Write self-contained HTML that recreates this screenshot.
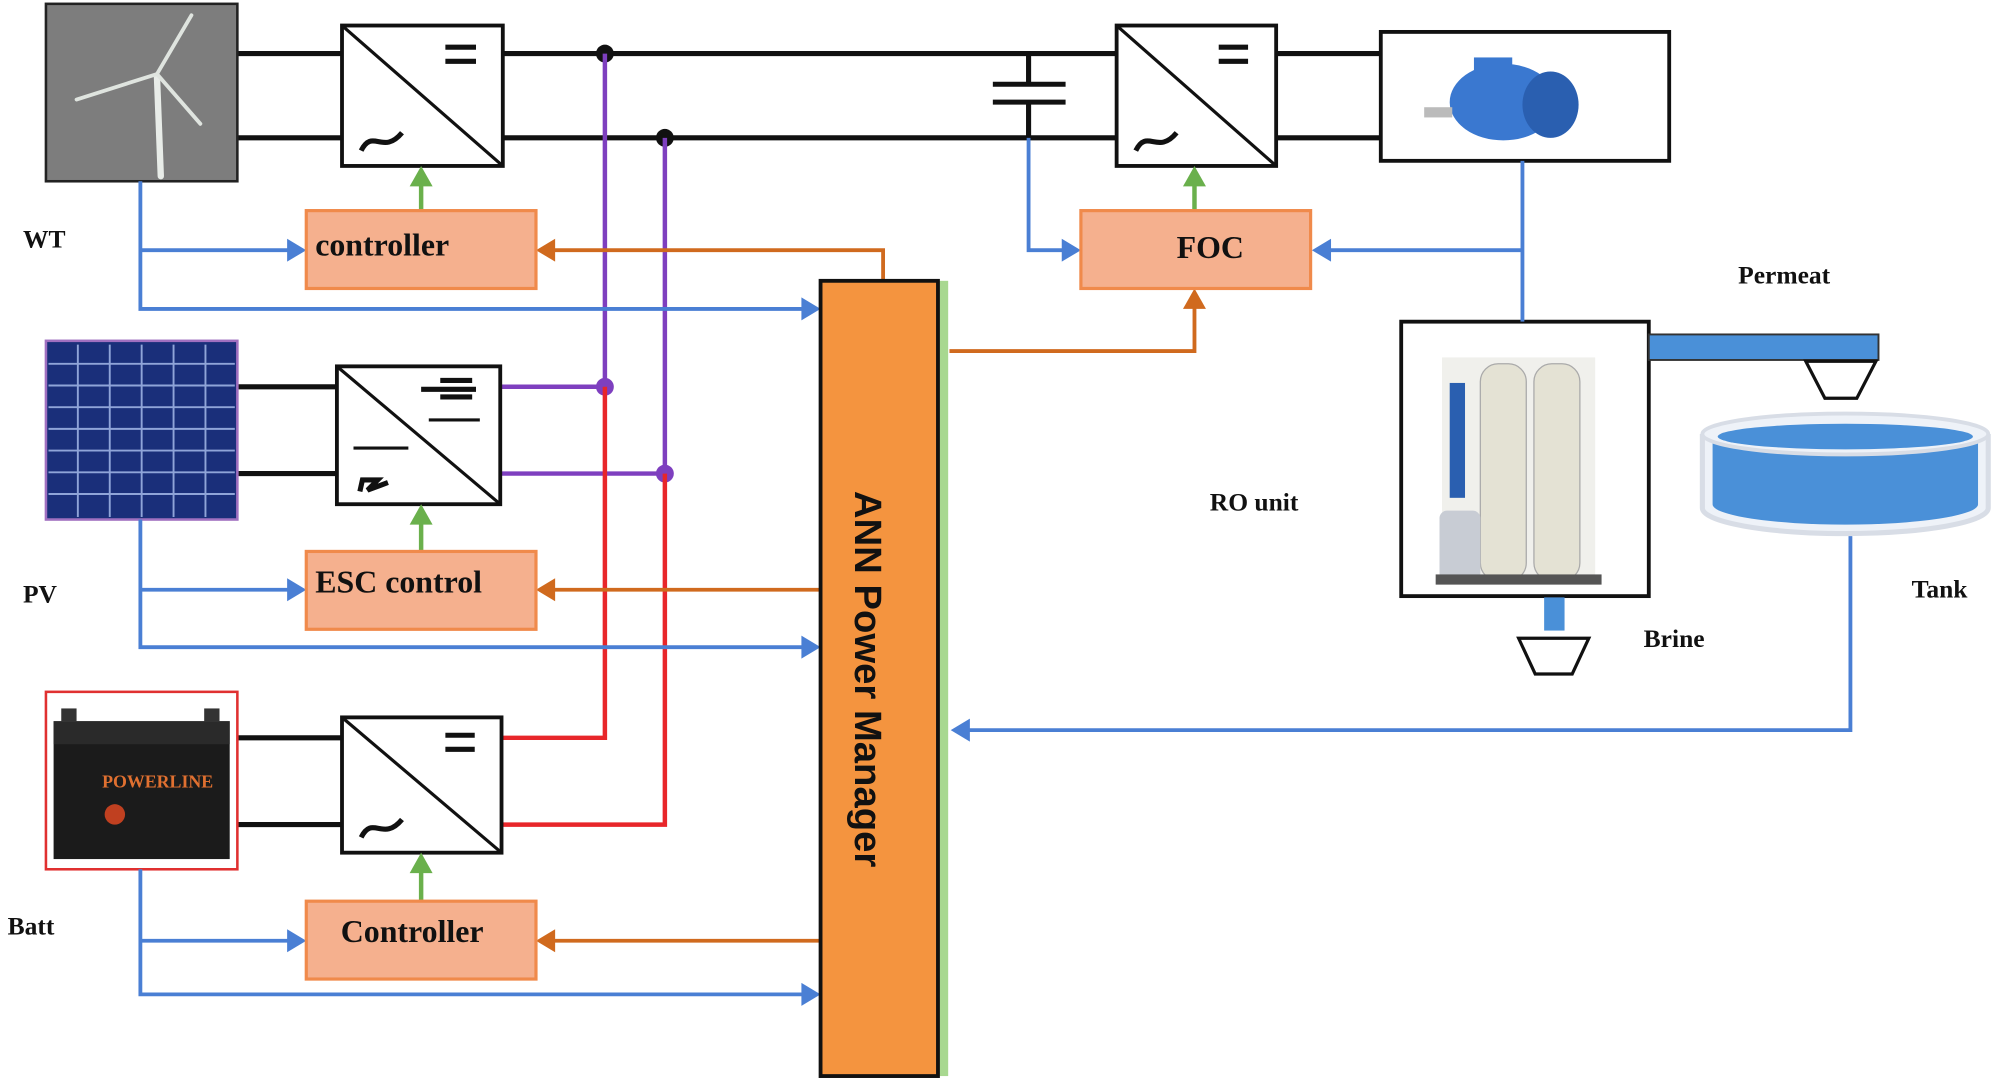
<!DOCTYPE html>
<html><head><meta charset="utf-8"><style>
html,body{margin:0;padding:0;background:#fff;}
svg{display:block;}
text{font-family:"Liberation Serif",serif;font-weight:bold;}
</style></head><body>
<svg width="2001" height="1085" viewBox="0 0 1568 850" preserveAspectRatio="none" xmlns="http://www.w3.org/2000/svg">
<rect width="1568" height="850" fill="#fff"/>
<g stroke="#111" stroke-width="4" fill="none">
<line x1="186" y1="42" x2="268" y2="42"/><line x1="186" y1="108" x2="268" y2="108"/>
<line x1="394" y1="42" x2="875" y2="42"/><line x1="394" y1="108" x2="875" y2="108"/>
<line x1="1000" y1="42" x2="1082" y2="42"/><line x1="1000" y1="108" x2="1082" y2="108"/>
<line x1="186" y1="303" x2="264" y2="303"/><line x1="186" y1="371" x2="264" y2="371"/>
<line x1="186" y1="578" x2="268" y2="578"/><line x1="186" y1="646" x2="268" y2="646"/>
<line x1="806" y1="42" x2="806" y2="66"/><line x1="806" y1="80" x2="806" y2="108"/>
<line x1="778" y1="66" x2="835" y2="66"/><line x1="778" y1="80" x2="835" y2="80"/>
</g>
<circle cx="474" cy="42" r="7" fill="#111"/><circle cx="521" cy="108" r="7" fill="#111"/>
<g stroke="#7e3fbf" stroke-width="3.5" fill="none">
<line x1="474" y1="42" x2="474" y2="303"/><line x1="521" y1="108" x2="521" y2="371"/>
<line x1="392" y1="303" x2="474" y2="303"/><line x1="392" y1="371" x2="521" y2="371"/>
</g>
<circle cx="474" cy="303" r="7" fill="#7e3fbf"/><circle cx="521" cy="371" r="7" fill="#7e3fbf"/>
<g stroke="#e8262a" stroke-width="3.5" fill="none">
<polyline points="474,303 474,578 393,578"/><polyline points="521,371 521,646 393,646"/>
</g>
<g stroke="#111" stroke-width="3" fill="#fff">
<rect x="268" y="20" width="126" height="110"/><rect x="875" y="20" width="125" height="110"/>
<rect x="264" y="287" width="128" height="108"/><rect x="268" y="562" width="125" height="106"/>
</g>
<g stroke="#111" stroke-width="2.5" fill="none">
<line x1="268" y1="20" x2="394" y2="130"/><line x1="875" y1="20" x2="1000" y2="130"/>
<line x1="264" y1="287" x2="392" y2="395"/><line x1="268" y1="562" x2="393" y2="668"/>
</g>
<g stroke="#111" stroke-width="4" fill="none">
<line x1="349" y1="37" x2="373" y2="37"/><line x1="349" y1="48" x2="373" y2="48"/>
<line x1="955" y1="37" x2="978" y2="37"/><line x1="955" y1="48" x2="978" y2="48"/>
<line x1="349" y1="576" x2="372" y2="576"/><line x1="349" y1="587" x2="372" y2="587"/>
<path d="M283,118 C292,100 300,122 315,104"/><path d="M890,118 C899,100 907,122 922,104"/>
<path d="M283,656 C292,638 300,660 315,642"/>
<path d="M282,385 L284,376 L296,376 L288,384 L304,378"/>
<line x1="330" y1="305" x2="373" y2="305"/><line x1="345" y1="298" x2="370" y2="298"/><line x1="345" y1="311" x2="370" y2="311"/>
</g>
<g stroke="#111" stroke-width="2.5"><line x1="277" y1="351" x2="320" y2="351"/><line x1="336" y1="329" x2="376" y2="329"/></g>
<rect x="36" y="3" width="150" height="139" fill="#7d7d7d" stroke="#222" stroke-width="2"/>
<g stroke="#e8ece8" stroke-width="5" stroke-linecap="round"><line x1="123" y1="60" x2="126" y2="138"/></g>
<g stroke="#dfe4df" stroke-width="3" stroke-linecap="round"><line x1="123" y1="58" x2="150" y2="12"/><line x1="123" y1="58" x2="60" y2="78"/><line x1="123" y1="58" x2="157" y2="97"/></g>
<rect x="36" y="267" width="150" height="140" fill="#1a2f7a" stroke="#a070c0" stroke-width="2"/>
<g stroke="#8fa4d8" stroke-width="1.5">
<line x1="61" y1="270" x2="61" y2="405"/><line x1="86" y1="270" x2="86" y2="405"/><line x1="111" y1="270" x2="111" y2="405"/><line x1="136" y1="270" x2="136" y2="405"/><line x1="161" y1="270" x2="161" y2="405"/>
<line x1="38" y1="285" x2="184" y2="285"/><line x1="38" y1="302" x2="184" y2="302"/><line x1="38" y1="319" x2="184" y2="319"/><line x1="38" y1="336" x2="184" y2="336"/><line x1="38" y1="353" x2="184" y2="353"/><line x1="38" y1="370" x2="184" y2="370"/><line x1="38" y1="387" x2="184" y2="387"/>
</g>
<rect x="36" y="542" width="150" height="139" fill="#fff" stroke="#e03030" stroke-width="2"/>
<rect x="42" y="565" width="138" height="108" fill="#1b1b1b"/>
<rect x="48" y="555" width="12" height="10" fill="#333"/><rect x="160" y="555" width="12" height="10" fill="#333"/>
<rect x="42" y="565" width="138" height="18" fill="#2a2a2a"/>
<text x="80" y="617" font-size="14" fill="#e07030">POWERLINE</text>
<circle cx="90" cy="638" r="8" fill="#c04020"/>
<rect x="1082" y="25" width="226" height="101" fill="#fff" stroke="#111" stroke-width="3"/>
<ellipse cx="1178" cy="80" rx="42" ry="30" fill="#3a78d0"/>
<ellipse cx="1215" cy="82" rx="22" ry="26" fill="#2a5fb0"/>
<rect x="1116" y="84" width="22" height="8" fill="#bbb"/>
<rect x="1155" y="45" width="30" height="12" fill="#3a78d0"/>
<rect x="1098" y="252" width="194" height="215" fill="#fff" stroke="#111" stroke-width="3"/>
<rect x="1130" y="280" width="120" height="175" fill="#f0f0ec"/>
<rect x="1160" y="285" width="36" height="170" rx="14" fill="#e4e2d4" stroke="#aaa"/>
<rect x="1202" y="285" width="36" height="170" rx="14" fill="#e4e2d4" stroke="#aaa"/>
<rect x="1136" y="300" width="12" height="90" fill="#2a5fb0"/>
<rect x="1128" y="400" width="32" height="55" rx="6" fill="#c8ccd4"/>
<rect x="1125" y="450" width="130" height="8" fill="#555"/>
<rect x="1292" y="262" width="180" height="20" fill="#4a90d8" stroke="#333" stroke-width="1.5"/>
<path d="M1415,283 L1470,283 L1455,312 L1430,312 z" fill="#fff" stroke="#111" stroke-width="2.5"/>
<rect x="1210" y="468" width="16" height="26" fill="#4a90d8"/>
<path d="M1190,500 L1245,500 L1232,528 L1203,528 z" fill="#fff" stroke="#111" stroke-width="2.5"/>
<path d="M1334,340 L1334,398 A112,20 0 0 0 1558,398 L1558,340" fill="#eef2f8" stroke="#d8dde6" stroke-width="4"/>
<path d="M1342,345 L1342,395 A104,16 0 0 0 1550,395 L1550,345" fill="#4a90d8"/>
<ellipse cx="1446" cy="340" rx="112" ry="16" fill="#eef2f8" stroke="#d8dde6" stroke-width="3"/>
<ellipse cx="1446" cy="342" rx="100" ry="10" fill="#4a90d8"/>
<g stroke="#4a7fd4" stroke-width="3" fill="none">
<polyline points="110,142 110,242 632,242"/><line x1="110" y1="196" x2="230" y2="196"/>
<polyline points="110,407 110,507 632,507"/><line x1="110" y1="462" x2="230" y2="462"/>
<polyline points="110,681 110,779 632,779"/><line x1="110" y1="737" x2="230" y2="737"/>
<polyline points="806,108 806,196 836,196"/>
<polyline points="1193,126 1193,252"/><line x1="1193" y1="196" x2="1040" y2="196"/>
<polyline points="1450,420 1450,572 758,572"/>
</g>
<g fill="#4a7fd4">
<path d="M643,242 L628,233 L628,251 z"/><path d="M240,196 L225,187 L225,205 z"/>
<path d="M643,507 L628,498 L628,516 z"/><path d="M240,462 L225,453 L225,471 z"/>
<path d="M643,779 L628,770 L628,788 z"/><path d="M240,737 L225,728 L225,746 z"/>
<path d="M847,196 L832,187 L832,205 z"/><path d="M1028,196 L1043,187 L1043,205 z"/>
<path d="M745,572 L760,563 L760,581 z"/>
</g>
<g stroke="#d06a1e" stroke-width="3" fill="none">
<polyline points="692,220 692,196 432,196"/>
<line x1="643" y1="462" x2="432" y2="462"/><line x1="643" y1="737" x2="432" y2="737"/>
<polyline points="744,275 936,275 936,240"/>
</g>
<g fill="#d06a1e">
<path d="M420,196 L435,187 L435,205 z"/><path d="M420,462 L435,453 L435,471 z"/><path d="M420,737 L435,728 L435,746 z"/>
<path d="M936,226 L927,242 L945,242 z"/>
</g>
<g stroke="#6ab04c" stroke-width="3.5"><line x1="330" y1="165" x2="330" y2="142"/><line x1="936" y1="165" x2="936" y2="142"/><line x1="330" y1="432" x2="330" y2="407"/><line x1="330" y1="706" x2="330" y2="680"/></g>
<g fill="#6ab04c"><path d="M330,130 L321,146 L339,146 z"/><path d="M936,130 L927,146 L945,146 z"/><path d="M330,395 L321,411 L339,411 z"/><path d="M330,668 L321,684 L339,684 z"/></g>
<g fill="#f5b08e" stroke="#f08a4b" stroke-width="2.5">
<rect x="240" y="165" width="180" height="61"/><rect x="847" y="165" width="180" height="61"/>
<rect x="240" y="432" width="180" height="61"/><rect x="240" y="706" width="180" height="61"/>
</g>
<text x="247" y="200" font-size="25" fill="#111">controller</text>
<text x="922" y="202" font-size="25" fill="#111">FOC</text>
<text x="247" y="464" font-size="25" fill="#111">ESC control</text>
<text x="267" y="738" font-size="25" fill="#111">Controller</text>
<rect x="735" y="220" width="8" height="623" fill="#a8d890"/>
<rect x="643" y="220" width="92" height="623" fill="#f4943f" stroke="#111" stroke-width="3"/>
<text transform="translate(670,532) rotate(90)" text-anchor="middle" font-size="30" fill="#111" style="font-family:'Liberation Sans',sans-serif;font-weight:bold">ANN Power Manager</text>
<g font-size="20" fill="#111">
<text x="18" y="194">WT</text><text x="18" y="472">PV</text><text x="6" y="732">Batt</text>
<text x="948" y="400">RO unit</text><text x="1362" y="222">Permeat</text>
<text x="1288" y="507">Brine</text><text x="1498" y="468">Tank</text>
</g>
</svg>
</body></html>
